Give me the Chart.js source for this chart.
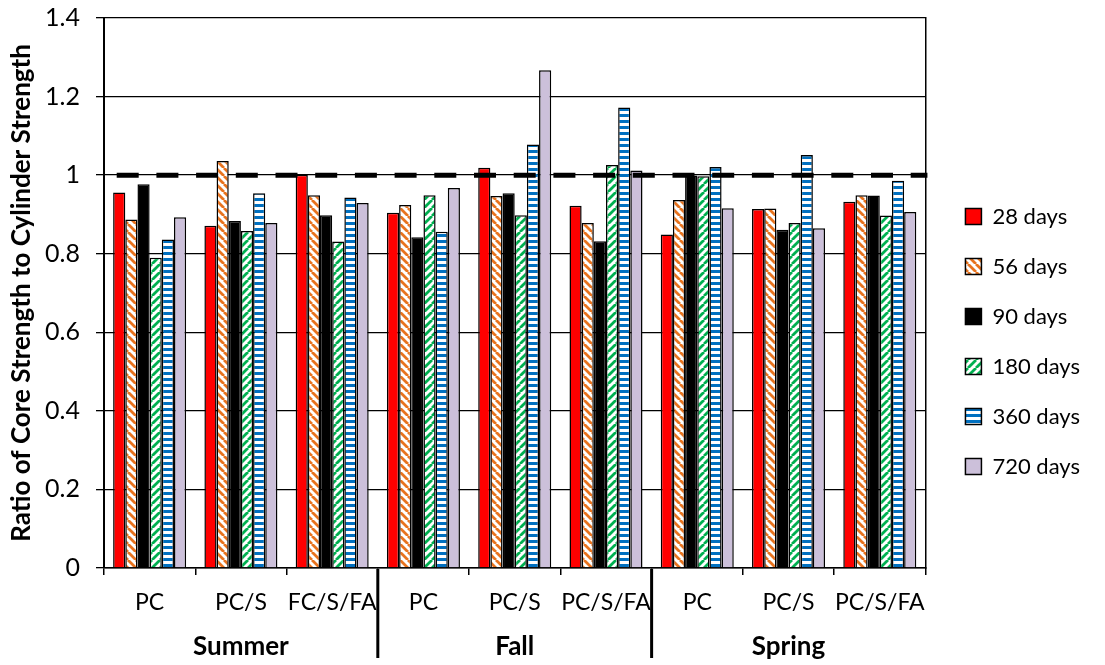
<!DOCTYPE html>
<html>
<head>
<meta charset="utf-8">
<script src="https://cdn.jsdelivr.net/npm/chart.js@4.4.0/dist/chart.umd.min.js"></script>
<style>
  html, body { margin: 0; padding: 0; background: #fff; }
  canvas { display: block; }
</style>
</head>
<body>
<canvas id="chart" width="1105" height="665"></canvas>
<script>
// categories (mix designs) and seasons
const mixes = ['PC', 'PC/S', 'FC/S/FA', 'PC', 'PC/S', 'PC/S/FA', 'PC', 'PC/S', 'PC/S/FA'];
const seasons = ['Summer', 'Fall', 'Spring'];
const ages = ['28 days', '56 days', '90 days', '180 days', '360 days', '720 days'];

// ratio of core strength to cylinder strength, one value per mix
const days28  = [0.956, 0.871, 1.001, 0.904, 1.019, 0.922, 0.849, 0.914, 0.932];
const days56  = [0.887, 1.036, 0.949, 0.924, 0.947, 0.878, 0.937, 0.915, 0.949];
const days90  = [0.977, 0.883, 0.898, 0.842, 0.954, 0.832, 0.999, 0.861, 0.948];
const days180 = [0.790, 0.858, 0.831, 0.949, 0.898, 1.026, 0.997, 0.878, 0.897];
const days360 = [0.836, 0.954, 0.943, 0.856, 1.078, 1.172, 1.021, 1.051, 0.986];
const days720 = [0.893, 0.878, 0.929, 0.967, 1.267, 1.012, 0.916, 0.865, 0.906];

const yTicks = [0, 0.2, 0.4, 0.6, 0.8, 1, 1.2, 1.4];
const targetRatio = 1;

Chart.defaults.font.family = 'Lato';
Chart.defaults.color = '#000';

function stripes(color, kind) {
  const c = document.createElement('canvas');
  const g = c.getContext('2d');
  if (kind === 'horiz') {
    c.width = 6; c.height = 6;
    g.fillStyle = '#fff'; g.fillRect(0, 0, 6, 6);
    g.fillStyle = color; g.fillRect(0, 0, 6, 3);
  } else {
    const s = 8;
    c.width = s; c.height = s;
    g.fillStyle = '#fff'; g.fillRect(0, 0, s, s);
    g.strokeStyle = color; g.lineWidth = 2.8;
    g.beginPath();
    for (const k of [-s, 0, s]) {
      if (kind === 'down') { g.moveTo(k, 0); g.lineTo(k + s, s); }
      else { g.moveTo(k, s); g.lineTo(k + s, 0); }
    }
    g.stroke();
  }
  return g.createPattern(c, 'repeat');
}

const fills = [
  '#ff0000',
  stripes('#e8731e', 'down'),
  '#000000',
  stripes('#00b050', 'up'),
  stripes('#0070c0', 'horiz'),
  '#ccc0da'
];
const series = [days28, days56, days90, days180, days360, days720];

const extras = {
  id: 'extras',
  afterDatasetsDraw(chart) {
    const { ctx, chartArea: a, scales: { y } } = chart;
    const yy = y.getPixelForValue(targetRatio);
    ctx.save();
    ctx.strokeStyle = '#000';
    ctx.lineWidth = 5;
    ctx.setLineDash([22, 17.7]);
    ctx.lineDashOffset = 27;
    ctx.beginPath();
    ctx.moveTo(a.left, yy);
    ctx.lineTo(a.right + 2, yy);
    ctx.stroke();
    ctx.restore();
  },
  afterDraw(chart) {
    const { ctx, chartArea: a, scales: { x } } = chart;
    ctx.save();
    ctx.strokeStyle = '#000';
    ctx.lineWidth = 3;
    [2, 5].forEach(i => {
      const xx = (x.getPixelForValue(i) + x.getPixelForValue(i + 1)) / 2;
      ctx.beginPath();
      ctx.moveTo(xx, a.bottom + 1);
      ctx.lineTo(xx, a.bottom + 90);
      ctx.stroke();
    });
    ctx.fillStyle = '#000';
    ctx.font = 'bold 26px Lato';
    ctx.textAlign = 'center';
    ctx.textBaseline = 'middle';
    seasons.forEach((s, i) => {
      ctx.fillText(s, x.getPixelForValue(i * 3 + 1), a.bottom + 79);
    });
    ctx.restore();
  }
};

new Chart(document.getElementById('chart'), {
  type: 'bar',
  data: {
    labels: mixes,
    datasets: series.map((d, i) => ({
      label: ages[i],
      data: d,
      backgroundColor: fills[i],
      borderColor: '#000',
      borderWidth: 1.5,
      barPercentage: 1,
      categoryPercentage: 0.8
    }))
  },
  options: {
    responsive: false,
    animation: false,
    devicePixelRatio: 1,
    layout: { padding: { top: 18, right: 15, bottom: 0, left: 0 } },
    plugins: {
      legend: {
        position: 'right',
        labels: {
          boxWidth: 16,
          boxHeight: 16,
          padding: 28,
          font: { size: 22 },
          color: '#000'
        }
      },
      tooltip: { enabled: false }
    },
    scales: {
      x: {
        grid: { drawOnChartArea: false, drawTicks: true, tickLength: 7, offset: true, color: '#000', lineWidth: 1.5 },
        border: { display: true, color: '#000', width: 1.5 },
        ticks: { font: { size: 23 }, color: '#000', padding: 14, maxRotation: 0, autoSkip: false },
        afterFit(s) { s.height = 97; }
      },
      y: {
        min: 0,
        max: 1.4,
        afterBuildTicks(s) { s.ticks = yTicks.map(v => ({ value: v })); },
        ticks: { font: { size: 25 }, color: '#000', padding: 16, callback: v => String(+v.toFixed(1)) },
        grid: { color: '#000', lineWidth: 1.3, tickLength: 8 },
        border: { display: true, color: '#000', width: 2 },
        title: {
          display: true,
          text: 'Ratio of Core Strength to Cylinder Strength',
          font: { size: 26, weight: 'bold' },
          color: '#000',
          padding: { top: 6, bottom: 0 }
        },
        afterFit(s) { s.width = 104; s.paddingTop = 0; s.paddingBottom = 0; }
      },
      y2: {
        position: 'right',
        min: 0,
        max: 1.4,
        ticks: { display: false },
        grid: { drawOnChartArea: false, drawTicks: false },
        border: { display: true, color: '#000', width: 1.5 },
        afterFit(s) { s.width = 12; s.paddingTop = 0; s.paddingBottom = 0; }
      }
    }
  },
  plugins: [extras]
});
</script>
</body>
</html>
